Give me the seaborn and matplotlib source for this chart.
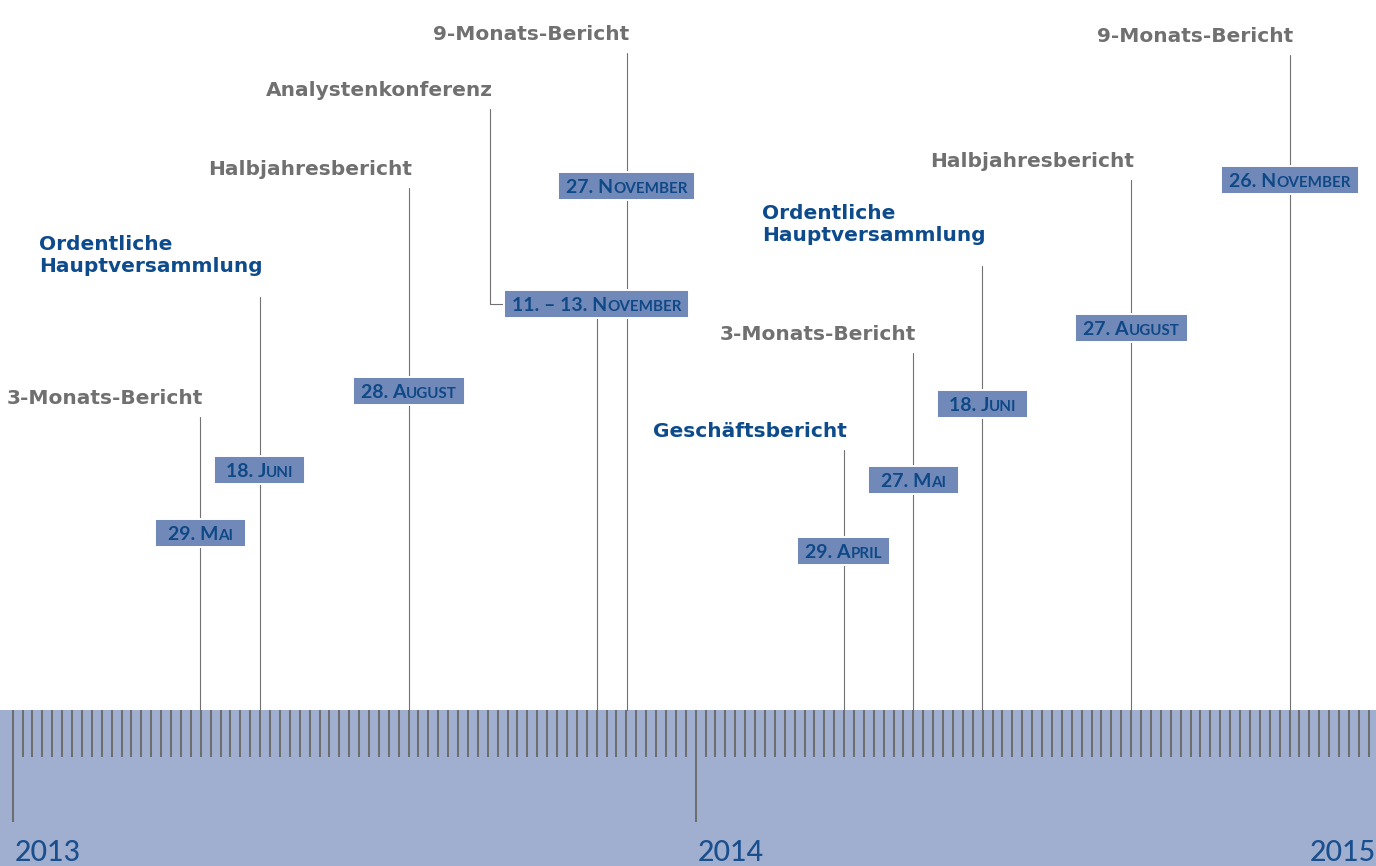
import matplotlib
matplotlib.use("Agg")
import matplotlib.pyplot as plt
import numpy as np
import pandas as pd
import seaborn as sns
from matplotlib.patches import Rectangle

# --- data ------------------------------------------------------------------
EVENT_TITLES = [
    "3-Monats-Bericht",
    "Ordentliche\nHauptversammlung",
    "Halbjahresbericht",
    "Analystenkonferenz",
    "9-Monats-Bericht",
    "Geschäftsbericht",
    "3-Monats-Bericht",
    "Ordentliche\nHauptversammlung",
    "Halbjahresbericht",
    "9-Monats-Bericht",
]
EVENT_DATES = [
    "29. Mai",
    "18. Juni",
    "28. August",
    "11. – 13. November",
    "27. November",
    "29. April",
    "27. Mai",
    "18. Juni",
    "27. August",
    "26. November",
]
# position on the timeline (in years)
EVENT_POS = [2013.275, 2013.362, 2013.580, 2013.855, 2013.899,
             2014.217, 2014.319, 2014.420, 2014.638, 2014.870]
# height of the stem above the band and of the date box
STEM_TOP = [293, 413, 522, 601, 657, 260, 357, 444, 530, 655]
DATE_LEVEL = [177, 240, 319, 406, 524, 159, 230, 306, 382, 530]
HIGHLIGHT = [False, True, False, False, False, True, False, True, False, False]
SIDE_CONNECTOR = [False, False, False, True, False, False, False, False, False, False]
YEARS = [2013, 2014, 2015]
TICKS_PER_YEAR = 69

# --- styling ---------------------------------------------------------------
BAND_COLOR = "#a0afcf"
TICK_COLOR = "#6e6e6e"
STEM_COLOR = "#717171"
GRAY_TEXT = "#707070"
BLUE_TEXT = "#0d4b8c"
YEAR_COLOR = "#1a4f8e"
BOX_FILL = "#7089b9"
BOX_TEXT = "#0f4886"

W, H = 1376, 866
PX_PER_YEAR = 682.96
LEFT_PAD_PX = 12.67
BAND_DEPTH = 156

sns.set_theme(style="white")
plt.rcParams["font.family"] = ["DejaVu Sans"]

fig = plt.figure(figsize=(W / 100, H / 100), dpi=100)
ax = fig.add_axes([0, 0, 1, 1])
x0 = 2013 - LEFT_PAD_PX / PX_PER_YEAR
XLIM = (x0, x0 + W / PX_PER_YEAR)
YLIM = (-BAND_DEPTH, H - BAND_DEPTH)

px = 1 / PX_PER_YEAR  # one pixel in x data units (y units are already pixels)

# band with ruler ticks
ax.axhspan(-BAND_DEPTH, 0, color=BAND_COLOR, lw=0, zorder=0)
ruler = 2013 + np.arange(0, 2 * TICKS_PER_YEAR + 1) / TICKS_PER_YEAR
ax.vlines(ruler, -46.7, 0, color=TICK_COLOR, lw=1.45, zorder=1)
ax.vlines(YEARS, -111.7, 0, color=TICK_COLOR, lw=1.45, zorder=1)

# stems
rows = []
for i, (x, top, lvl) in enumerate(zip(EVENT_POS, STEM_TOP, DATE_LEVEL)):
    end = lvl if SIDE_CONNECTOR[i] else top
    rows.append({"event": i, "x": x, "y": 0})
    rows.append({"event": i, "x": x, "y": end})
stems = pd.DataFrame(rows)
sns.lineplot(data=stems, x="x", y="y", units="event", estimator=None,
             sort=False, color=STEM_COLOR, lw=0.8, ax=ax, zorder=2, legend=False)
ax.set_xlim(*XLIM)
ax.set_ylim(*YLIM)
ax.axis("off")

for yr in YEARS:
    last = yr == YEARS[-1]
    ax.text(XLIM[1] if last else yr + 2 * px, -150.7, str(yr),
            ha="right" if last else "left", va="baseline",
            fontsize=20.5, fontweight="medium", color=YEAR_COLOR,
            family=["Lato", "DejaVu Sans"])

renderer = fig.canvas.get_renderer()
BIG = 14.0
SMALL = BIG * 0.78
CAP = 0.7165 * BIG * 100 / 72
MIN_BOX = 91


def smallcaps_runs(s):
    runs = []
    for ch in s:
        small = ch.islower()
        c = ch.upper() if small else ch
        if runs and runs[-1][1] == small:
            runs[-1][0] += c
        else:
            runs.append([c, small])
    return runs


def date_box(x, lvl, s):
    """Draw a date in small caps on a filled box; return box left edge (data x)."""
    parts = []
    total = 0.0
    for txt, small in smallcaps_runs(s):
        t = ax.text(0, 0, txt, fontsize=SMALL if small else BIG, fontweight="bold",
                    color=BOX_TEXT, family=["Lato", "DejaVu Sans"],
                    ha="left", va="baseline", zorder=5)
        w = t.get_window_extent(renderer).width
        parts.append((t, w))
        total += w
    start = x - total / 2 * px
    for t, w in parts:
        t.set_position((start, lvl - CAP / 2))
        start += w * px
    bw = max(MIN_BOX, total + 16)
    left = x - bw / 2 * px
    ax.add_patch(Rectangle((left, lvl - 14), bw * px, 28, facecolor=BOX_FILL,
                           edgecolor="white", lw=1.4, zorder=4))
    return left


for i, title in enumerate(EVENT_TITLES):
    x = EVENT_POS[i]
    left = date_box(x, DATE_LEVEL[i], EVENT_DATES[i])
    color = BLUE_TEXT if HIGHLIGHT[i] else GRAY_TEXT
    lx = x
    if SIDE_CONNECTOR[i]:
        lx = left - 13.7 * px
        ax.plot([left, lx, lx], [DATE_LEVEL[i], DATE_LEVEL[i], STEM_TOP[i]],
                color=STEM_COLOR, lw=0.8, zorder=2)
    gap = 21 if "\n" in title else 9
    ax.text(lx + 3 * px, STEM_TOP[i] + gap, title, ha="right", va="bottom",
            multialignment="left", linespacing=1.2, fontsize=14.5,
            fontweight="bold", color=color, family=["DejaVu Sans"])

fig.savefig("out.png", dpi=100)
